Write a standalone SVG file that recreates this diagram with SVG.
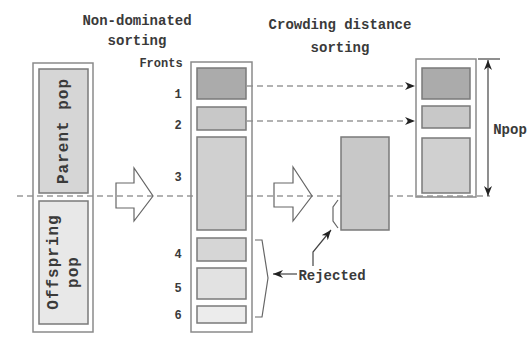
<svg xmlns="http://www.w3.org/2000/svg" width="531" height="338" viewBox="0 0 531 338">
  <defs>
    <marker id="head" viewBox="0 0 10 8" refX="10" refY="4" markerWidth="10" markerHeight="8" markerUnits="userSpaceOnUse" orient="auto">
      <path d="M0,0 L10,4 L0,8 L3,4 Z" fill="#222"/>
    </marker>
    <marker id="headStart" viewBox="0 0 10 8" refX="10" refY="4" markerWidth="10" markerHeight="8" markerUnits="userSpaceOnUse" orient="auto-start-reverse">
      <path d="M0,0 L10,4 L0,8 L3,4 Z" fill="#222"/>
    </marker>
  </defs>
  <style>
    .frame { fill: none; stroke: #8a8a8a; stroke-width: 1.5; }
    .cell { stroke: #7a7a7a; stroke-width: 1.5; }
    .big { fill: none; stroke: #666; stroke-width: 1.2; }
    .dash { fill: none; stroke: #999; stroke-width: 1.5; stroke-dasharray: 6 4; }
    .ptr { fill: none; stroke: #444; stroke-width: 1.2; }
    .title { font-family: "Liberation Mono", "DejaVu Sans Mono", monospace; font-size: 14px; font-weight: bold; fill: #3a3a3a; text-anchor: middle; }
    .lbl { font-family: "Liberation Mono", "DejaVu Sans Mono", monospace; font-size: 12px; font-weight: bold; fill: #3a3a3a; text-anchor: middle; }
    .vert { font-family: "Liberation Mono", "DejaVu Sans Mono", monospace; font-size: 16px; font-weight: bold; fill: #3a3a3a; text-anchor: middle; letter-spacing: 1px; }
  </style>

  <rect width="531" height="338" fill="#ffffff"/>

  <!-- split line between parents and offspring, drawn first so the cells cover it -->
  <g id="connectors">
    <line class="dash" x1="17" y1="196" x2="490" y2="196"/>
    <line class="dash" x1="247" y1="86" x2="415" y2="86" marker-end="url(#head)"/>
    <line class="dash" x1="247" y1="121" x2="415" y2="121" marker-end="url(#head)"/>
    <!-- block arrows -->
    <polygon class="big" points="116,183 134,183 134,168 153,196 134,221 134,208 116,208"/>
    <polygon class="big" points="274,183 293,183 293,167 312,196 293,221 293,207 274,207"/>
    <!-- brace over rejected fronts 4-6 -->
    <path class="big" d="M255,240 L262,240 L268,278 L262,317 L255,317"/>
    <!-- brace over rejected part of front 3 -->
    <path class="big" d="M338,200 L333,207 L333,221 L338,228"/>
    <!-- pointers from the label -->
    <path class="ptr" d="M313,266 L313,252 L331,230" marker-end="url(#head)"/>
    <line class="ptr" x1="297" y1="274" x2="273" y2="274" marker-end="url(#head)"/>
    <!-- population size marker -->
    <line class="ptr" x1="478" y1="59" x2="500" y2="59"/>
    <line class="ptr" x1="488" y1="60" x2="488" y2="196" marker-start="url(#headStart)" marker-end="url(#head)"/>
  </g>

  <g id="titles">
    <text class="title" x="137" y="25">Non-dominated</text>
    <text class="title" x="137" y="45">sorting</text>
    <text class="title" x="340" y="29">Crowding distance</text>
    <text class="title" x="340" y="52">sorting</text>
  </g>

  <g id="combined-pop">
    <rect class="frame" x="33" y="63" width="60" height="269"/>
    <rect class="cell" x="39" y="69" width="49" height="124" fill="#d6d6d6"/>
    <rect class="cell" x="39" y="201" width="49" height="123" fill="#e8e8e8"/>
    <text class="vert" transform="translate(68,131) rotate(-90)">Parent pop</text>
    <text class="vert" transform="translate(58,262) rotate(-90)">Offspring</text>
    <text class="vert" transform="translate(78,272) rotate(-90)">pop</text>
  </g>

  <g id="fronts">
    <rect class="frame" x="191" y="62" width="61" height="270"/>
    <rect class="cell" x="197" y="68" width="49" height="31" fill="#ababab"/>
    <rect class="cell" x="197" y="107" width="49" height="23" fill="#c8c8c8"/>
    <rect class="cell" x="197" y="137" width="49" height="93" fill="#d0d0d0"/>
    <rect class="cell" x="197" y="238" width="49" height="23" fill="#d6d6d6"/>
    <rect class="cell" x="197" y="268" width="49" height="31" fill="#e2e2e2"/>
    <rect class="cell" x="197" y="306" width="49" height="17" fill="#ececec"/>
    <text class="lbl" x="161" y="67">Fronts</text>
    <text class="lbl" x="178" y="98">1</text>
    <text class="lbl" x="178" y="129">2</text>
    <text class="lbl" x="178" y="181">3</text>
    <text class="lbl" x="178" y="258">4</text>
    <text class="lbl" x="178" y="292">5</text>
    <text class="lbl" x="178" y="319">6</text>
  </g>

  <g id="front3-sorted">
    <rect class="cell" x="341" y="137" width="48" height="93" fill="#c8c8c8"/>
  </g>

  <g id="new-pop">
    <rect class="frame" x="416" y="59" width="60" height="138"/>
    <rect class="cell" x="422" y="68" width="48" height="31" fill="#ababab"/>
    <rect class="cell" x="422" y="106" width="48" height="22" fill="#c8c8c8"/>
    <rect class="cell" x="422" y="138" width="48" height="55" fill="#d0d0d0"/>
    <text class="title" x="510" y="134">Npop</text>
  </g>

  <g id="rejected-label">
    <text class="title" x="332" y="280">Rejected</text>
  </g>
</svg>
